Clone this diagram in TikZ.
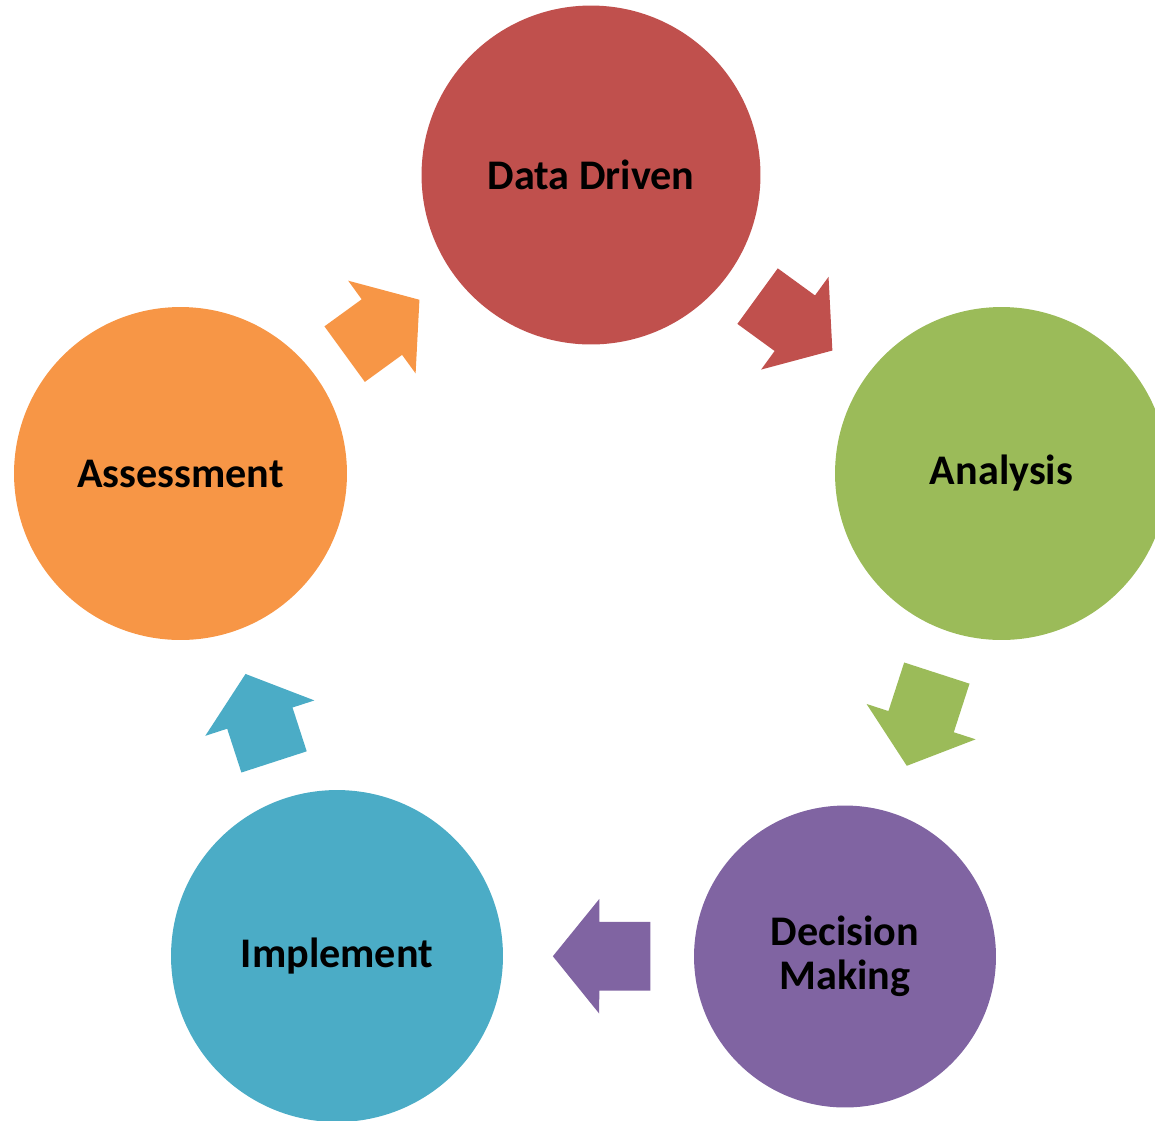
\documentclass[tikz,border=0pt]{standalone}
\usepackage{fontspec}
\setmainfont{Carlito}
\usepackage{xcolor}
\usetikzlibrary{shapes,arrows,positioning,calc}

\definecolor{ddred}{HTML}{C0504D}
\definecolor{angreen}{HTML}{9BBB59}
\definecolor{dmpurple}{HTML}{8064A2}
\definecolor{imteal}{HTML}{4BACC6}
\definecolor{asorange}{HTML}{F79646}

\tikzset{
    stage/.style={circle, fill=#1, inner sep=0pt, align=center,
        font=\fontsize{24}{25.3}\selectfont\bfseries},
    cycarrow/.style={single arrow, fill=#1, draw=none,
        inner xsep=0pt, inner ysep=0.68cm,
        minimum height=1.85cm, minimum width=2.28cm,
        single arrow head extend=0.46cm, single arrow tip angle=102,
        sloped, allow upside down, pos=0.5, xshift=-0.34cm}
}

\begin{document}
\begin{tikzpicture}[x=0.02cm, y=-0.02cm]
    \useasboundingbox (0,0) rectangle (1155,1120);

    \node[stage=ddred, minimum size=6.78cm] (DD) at (591,175) {Data Driven};
    \node[stage=angreen, minimum size=6.66cm] (AN) at (1001.5,473.5) {Analysis};
    \node[stage=dmpurple, minimum size=6.04cm] (DM) at (845,956.5) {Decision\\Making};
    \node[stage=imteal, minimum size=6.64cm] (IM) at (337,956) {Implement};
    \node[stage=asorange, minimum size=6.66cm] (AS) at (180.5,473.5) {Assessment};

    \path (DD) -- (AN) node[cycarrow=ddred] (A1) {};
    \path (AN) -- (DM) node[cycarrow=angreen, minimum height=1.95cm] (A2) {};
    \path (DM) -- (IM) node[cycarrow=dmpurple, minimum height=1.95cm] (A3) {};
    \path (IM) -- (AS) node[cycarrow=imteal] (A4) {};
    \path (AS) -- (DD) node[cycarrow=asorange] (A5) {};
\end{tikzpicture}
\end{document}
